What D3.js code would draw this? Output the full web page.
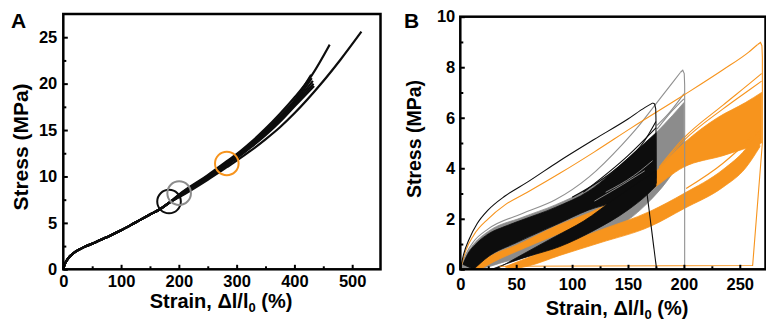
<!DOCTYPE html>
<html>
<head>
<meta charset="utf-8">
<script src="https://cdn.jsdelivr.net/npm/d3@7"></script>
<style>
  body { margin: 0; background: #fff; }
  svg { display: block; font-family: "Liberation Sans", Arial, sans-serif; font-weight: bold; }
</style>
</head>
<body>
<svg id="chart" width="766" height="322"></svg>
<script>
const ORANGE = '#f7941d'
const GRAY = '#8c8c8c'
const BLACK = '#0d0d0d'

// ---- panel A: strain (%) / stress (MPa) ----
const baseA = [[0, 0], [2, 0.45], [5, 0.85], [10, 1.3], [15, 1.6], [20, 1.85], [30, 2.2], [40, 2.5], [52, 2.8],
  [64, 3.15], [80, 3.6], [100, 4.2], [125, 5.05], [150, 5.9], [168, 6.5], [184, 7.2]]
const tailsA = [
  [[200, 8.05], [250, 10.15], [283, 11.65], [300, 12.4], [325, 13.7], [350, 15.15], [375, 16.75], [400, 18.5], [430, 20.9], [461, 24.2]],
  [[200, 8.0], [250, 10.05], [283, 11.55], [300, 12.3], [325, 13.55], [350, 14.95], [375, 16.5], [400, 18.2], [429, 20.95]],
  [[200, 7.95], [250, 10.0], [283, 11.5], [300, 12.25], [325, 13.45], [350, 14.8], [375, 16.35], [400, 18.0], [430, 20.6]],
  [[200, 7.9], [250, 9.95], [283, 11.4], [300, 12.15], [325, 13.35], [350, 14.7], [375, 16.2], [400, 17.85], [432, 20.3]],
  [[200, 7.85], [250, 9.85], [283, 11.3], [300, 12.05], [325, 13.25], [350, 14.6], [375, 16.05], [400, 17.7], [433, 20.0]],
  [[200, 7.8], [250, 9.8], [283, 11.2], [300, 11.95], [325, 13.15], [350, 14.45], [375, 15.9], [400, 17.55], [434, 19.75]],
  [[200, 7.75], [250, 9.65], [283, 11.0], [300, 11.7], [325, 12.8], [350, 14.0], [375, 15.3], [400, 16.8], [445, 19.9], [480, 22.6], [516, 25.6]]
]
const circlesA = [
  { strain: 183, stress: 7.3, color: BLACK },
  { strain: 200.5, stress: 8.2, color: GRAY },
  { strain: 283, stress: 11.4, color: ORANGE }
]
const xTicksA = [0, 100, 200, 300, 400, 500]
const xMinorA = [50, 150, 250, 350, 450]
const yTicksA = [0, 5, 10, 15, 20, 25]
const yMinorA = [2.5, 7.5, 12.5, 17.5, 22.5]

// ---- panel B: cyclic loading, max strain 175 / 200 / 270 % ----
const grayBandTop = [[0, 0.05], [5, 0.55], [12, 1.0], [25, 1.5], [55, 2.05], [85, 2.55], [115, 3.2], [150, 4.35], [175, 5.4], [190, 6.1], [200, 6.6]]
const grayBandBot = [[5, 0], [20, 0.05], [40, 0.3], [60, 0.5], [89, 0.8], [120, 1.3], [150, 1.95], [167, 2.6], [185, 3.5], [200, 4.5]]
const grayThin = [
  [[176, 5.7], [185, 6.1], [195, 6.65], [200, 6.95]],
  [[176, 5.55], [190, 6.3], [200, 6.75]]
]
const grayFirst = [[0, 0], [5, 0.6], [12, 1.1], [25, 1.6], [55, 2.2], [85, 2.75], [115, 3.65], [145, 4.95], [160, 5.7], [175, 6.55], [190, 7.4], [197, 7.8]]
const grayDrop = [[197, 7.8], [199, 7.88], [200.3, 7.75], [200.7, 7.3], [200.7, 0]]

const orUpTop = [[10, 0.05], [30, 0.6], [50, 0.95], [85, 1.7], [126, 2.45], [170, 3.66], [200, 5.0], [230, 6.0], [255, 6.6], [269.5, 7.0]]
const orUpBot = [[18, 0], [30, 0.3], [50, 0.7], [85, 1.35], [126, 2.1], [170, 3.13], [200, 4.05], [235, 4.5], [269.5, 5.0]]
const orLoTop = [[40, 0.1], [60, 0.45], [89, 0.95], [125, 1.55], [170, 2.3], [200, 3.0], [235, 3.95], [255, 4.75], [267, 5.5]]
const orLoBot = [[45, 0], [60, 0.12], [89, 0.55], [125, 1.05], [170, 1.7], [200, 2.4], [235, 3.25], [255, 4.0], [268, 4.85]]
const orThin = [
  [[178, 4.05], [200, 5.2], [235, 6.5], [260, 7.4], [269.5, 7.75]],
  [[178, 4.0], [200, 5.1], [235, 6.35], [260, 7.15], [269.5, 7.45]],
  [[202, 3.2], [235, 4.2], [255, 5.0], [265, 5.5]]
]
const orFirst = [[0, 0], [5, 0.75], [12, 1.35], [25, 2.0], [40, 2.55], [60, 3.05], [89, 3.8], [120, 4.65], [153, 5.6], [200, 6.9], [235, 7.9], [258, 8.6], [266, 8.9]]
const orDrop = [[266, 8.9], [268.5, 8.98], [269.8, 8.85], [270.2, 8.4], [270.2, 5.0], [261.5, 0.15], [35, 0.12]]

const bkLoadTop = [[2, 0.2], [8, 0.7], [15, 1.05], [25, 1.4], [40, 1.7], [55, 1.95], [85, 2.45], [115, 3.1], [150, 4.4], [165, 5.0], [175, 5.4]]
const bkLoadBot = [[12, 0], [25, 0.5], [50, 1.05], [85, 1.75], [115, 2.35], [140, 2.7], [175, 3.6]]
const bkUnTop = [[32, 0], [50, 0.45], [85, 1.3], [110, 1.9], [140, 2.85], [175, 3.9]]
const bkUnBot = [[28, 0], [40, 0.2], [60, 0.5], [89, 0.9], [120, 1.55], [150, 2.35], [167, 2.95], [175, 3.3]]
const bkThin = [
  [[100, 2.85], [140, 4.0], [165, 5.1], [175, 5.85]],
  [[110, 3.05], [150, 4.5], [175, 5.6]]
]
// pale gaps between cycles inside the black bundle
const bkGaps = [
  [[120, 2.7], [145, 3.35], [165, 3.9]],
  [[130, 3.05], [155, 3.7], [172, 4.3]]
]
const bkFirst = [[0, 0], [3, 0.6], [8, 1.2], [15, 1.8], [25, 2.35], [40, 2.9], [60, 3.45], [89, 4.3], [120, 5.15], [150, 5.95], [165, 6.4], [172, 6.58]]
const bkDrop = [[172, 6.58], [173.8, 6.55], [174.8, 6.35], [175, 6.0], [175.2, 3.4]]
const bkReturn = [[167, 3.0], [175.5, 0.03]]

const xTicksB = [0, 50, 100, 150, 200, 250]
const xMinorB = [25, 75, 125, 175, 225]
const yTicksB = [0, 2, 4, 6, 8, 10]
const yMinorB = [1, 3, 5, 7, 9]

const svg = d3.select('#chart')

function frame (c) {
  const x = d3.scaleLinear(c.xDomain, [c.left, c.right])
  const y = d3.scaleLinear(c.yDomain, [c.bottom, c.top])
  const g = svg.append('g')
  const plot = g.append('g')

  const ax = (axis, cls, tr) => g.append('g').attr('class', cls).attr('transform', tr).call(axis)
  ax(d3.axisBottom(x).tickValues(c.xTicks).tickSize(-4.5).tickPadding(c.xPad), 'x', `translate(0,${ c.bottom })`)
  ax(d3.axisBottom(x).tickValues(c.xMinor).tickSize(-3).tickFormat(''), 'x minor', `translate(0,${ c.bottom })`)
  ax(d3.axisLeft(y).tickValues(c.yTicks).tickSize(-4.5).tickPadding(c.yPad), 'y', `translate(${ c.left },0)`)
  ax(d3.axisLeft(y).tickValues(c.yMinor).tickSize(-3).tickFormat(''), 'y minor', `translate(${ c.left },0)`)
  g.selectAll('.domain').remove()
  g.selectAll('.tick line').attr('stroke', '#000').attr('stroke-width', 2)
  g.selectAll('.tick text').attr('font-size', 16.5).attr('font-family', null).attr('fill', '#000')

  g.append('rect')
    .attr('x', c.left).attr('y', c.top)
    .attr('width', c.right - c.left).attr('height', c.bottom - c.top)
    .attr('fill', 'none').attr('stroke', '#000').attr('stroke-width', 2.5)

  // titles
  g.append('text')
    .attr('x', c.panelX).attr('y', 28).attr('font-size', 21)
    .text(c.panel)
  g.append('text')
    .attr('transform', `translate(${ c.yTitleX },${ c.yTitleY }) rotate(-90)`)
    .attr('text-anchor', 'middle').attr('font-size', c.yTitleSize)
    .text('Stress (MPa)')
  const t = g.append('text')
    .attr('x', c.xTitleX).attr('y', c.xTitleY)
    .attr('text-anchor', 'middle').attr('font-size', 20)
  t.append('tspan').text('Strain, Δl/l')
  t.append('tspan').attr('dy', 4).attr('font-size', 13).text('0')
  t.append('tspan').attr('dy', -4).text(' (%)')

  return { x, y, plot }
}

// Panel A
{
  const { x, y, plot } = frame({
    left: 63.3, right: 380.5, top: 14, bottom: 269.3,
    xDomain: [0, 549], yDomain: [0, 27.5],
    xTicks: xTicksA, xMinor: xMinorA, yTicks: yTicksA, yMinor: yMinorA,
    xPad: 6, yPad: 6,
    panel: 'A', panelX: 11,
    yTitleX: 28, yTitleY: 147, yTitleSize: 21,
    xTitleX: 221, xTitleY: 308
  })
  const line = d3.line(d => x(d[0]), d => y(d[1])).curve(d3.curveMonotoneX)
  plot.selectAll('path.curve')
    .data(tailsA.map(t => baseA.concat(t)))
    .join('path')
    .attr('class', 'curve')
    .attr('d', line)
    .attr('fill', 'none').attr('stroke', BLACK).attr('stroke-width', 2.2)
  plot.selectAll('circle')
    .data(circlesA)
    .join('circle')
    .attr('cx', d => x(d.strain)).attr('cy', d => y(d.stress)).attr('r', 11.8)
    .attr('fill', 'none').attr('stroke', d => d.color).attr('stroke-width', 2)
}

// Panel B
{
  const { x, y, plot } = frame({
    left: 460.3, right: 765.5, top: 16.7, bottom: 269.3,
    xDomain: [0, 273], yDomain: [0, 10],
    xTicks: xTicksB, xMinor: xMinorB, yTicks: yTicksB, yMinor: yMinorB,
    xPad: 9, yPad: 5,
    panel: 'B', panelX: 404,
    yTitleX: 421, yTitleY: 139, yTitleSize: 19.5,
    xTitleX: 617, xTitleY: 315
  })
  const line = d3.line(d => x(d[0]), d => y(d[1])).curve(d3.curveMonotoneX)
  const straight = d3.line(d => x(d[0]), d => y(d[1]))
  const band = (top, bot) => line(top) + line(bot.slice().reverse()).replace(/^M/, 'L') + 'Z'

  const fills = [
    [grayBandTop, grayBandBot, GRAY],
    [orUpTop, orUpBot, ORANGE],
    [orLoTop, orLoBot, ORANGE],
    [bkLoadTop, bkLoadBot, BLACK],
    [bkUnTop, bkUnBot, BLACK]
  ]
  plot.selectAll('path.band')
    .data(fills)
    .join('path')
    .attr('class', 'band')
    .attr('d', d => band(d[0], d[1]))
    .attr('fill', d => d[2])
    .attr('stroke', d => d[2]).attr('stroke-width', 0.8)

  plot.selectAll('path.gap')
    .data(bkGaps)
    .join('path')
    .attr('class', 'gap')
    .attr('d', line)
    .attr('fill', 'none').attr('stroke', '#bbb').attr('stroke-width', 0.7)

  const thin = [
    ...grayThin.map(p => [p, GRAY, line]),
    ...orThin.map(p => [p, ORANGE, line]),
    ...bkThin.map(p => [p, BLACK, line]),
    [grayFirst, '#909090', line], [grayDrop, '#909090', straight],
    [orFirst, ORANGE, line], [orDrop, ORANGE, straight],
    [bkFirst, BLACK, line], [bkDrop, BLACK, straight], [bkReturn, BLACK, straight]
  ]
  plot.selectAll('path.thin')
    .data(thin)
    .join('path')
    .attr('class', 'thin')
    .attr('d', d => d[2](d[0]))
    .attr('fill', 'none').attr('stroke', d => d[1]).attr('stroke-width', 1.1)
}
</script>
</body>
</html>
